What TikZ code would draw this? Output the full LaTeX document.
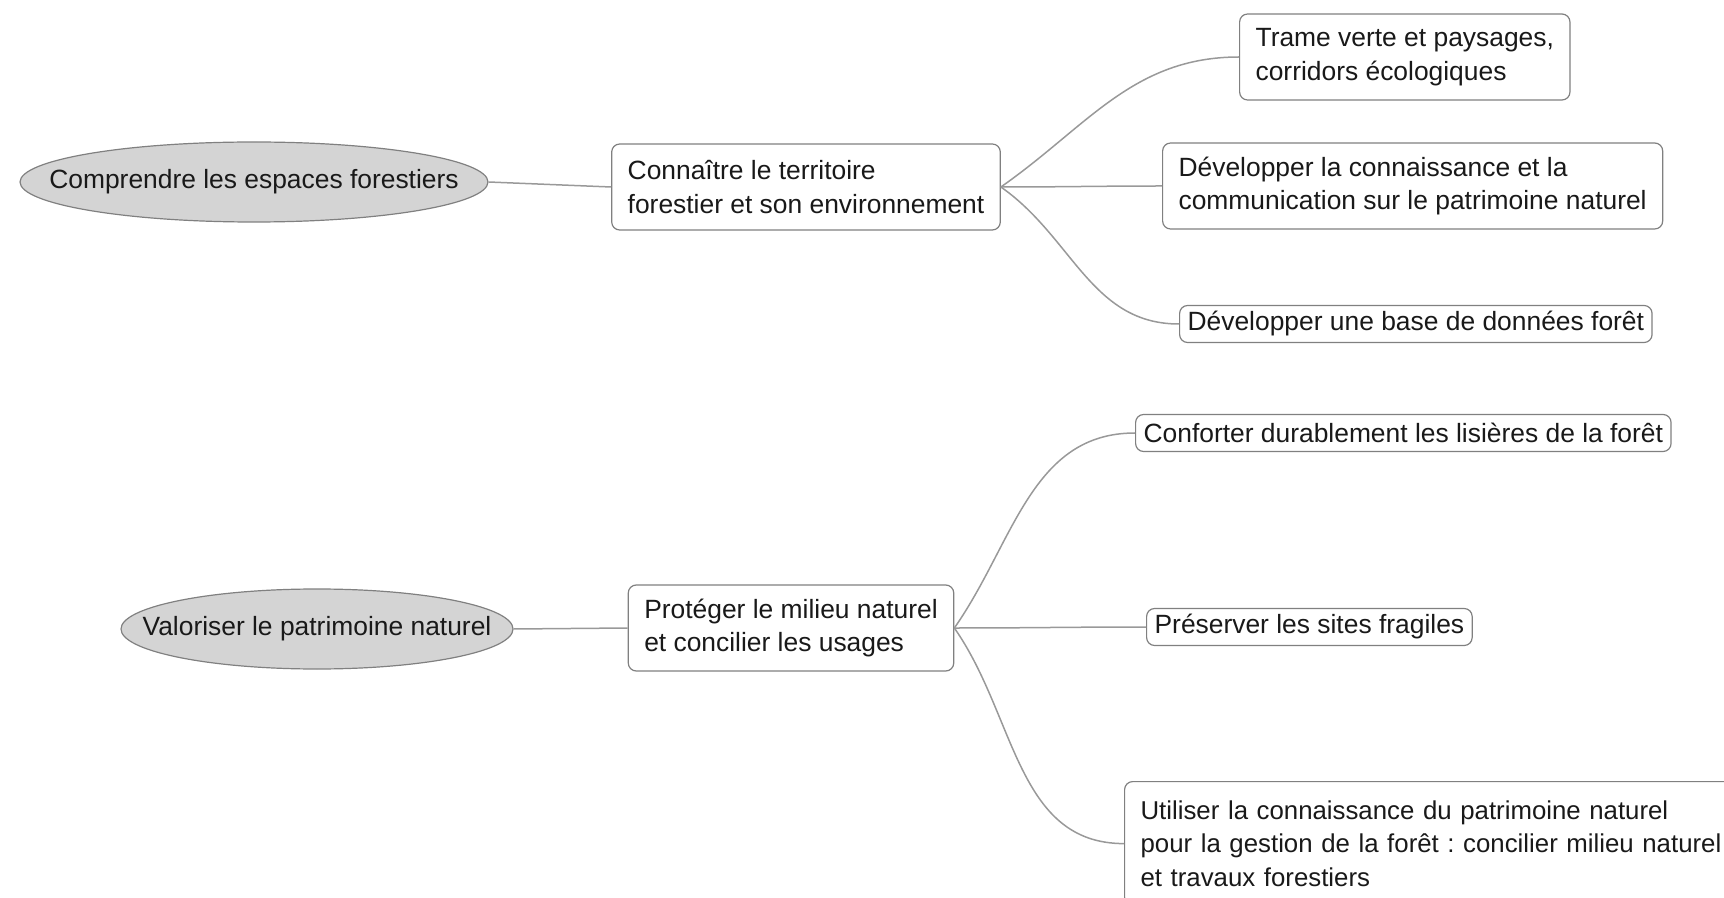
\documentclass[tikz,border=0pt]{standalone}
\usepackage{fontspec}
\setmainfont{Liberation Sans}
\usetikzlibrary{shapes}
\usetikzlibrary{positioning}
\frenchspacing

\begin{document}
\begin{tikzpicture}[x=0.5pt,y=-0.5pt,font=\fontsize{13.2}{16.8}\selectfont]
% définition des paramètres
\tikzstyle ellipsecarte=[ellipse,draw=black!50,fill=black!17,line width=0.6pt,minimum width=234pt,minimum height=40pt,inner xsep=-30pt,inner ysep=0pt,text=black!90]
\tikzstyle boitecarte=[rectangle,rounded corners=4pt,draw=black!50,fill=white,line width=0.6pt,align=left,inner xsep=8pt,minimum height=43pt,text=black!90]
\tikzstyle petiteboite=[boitecarte,inner xsep=4pt,inner ysep=2pt,minimum height=18.5pt]
\tikzstyle liencarte=[color=black!40,line width=0.75pt]
% le cadre
\clip (0,0) rectangle (1724,898);
% premier axe
\node[ellipsecarte] (comprendre) at (254,182) {Comprendre les espaces forestiers};
\node[boitecarte] (connaitre) at (806,187) {Connaître le territoire\\forestier et son environnement};
\node[boitecarte,anchor=west] (trame) at (1239,57) {Trame verte et paysages,\\corridors écologiques};
\node[boitecarte,anchor=west] (devconn) at (1162,186) {Développer la connaissance et la\\communication sur le patrimoine naturel};
\node[petiteboite,anchor=west] (devbase) at (1179,324) {Développer une base de données forêt};
% second axe
\node[ellipsecarte,minimum width=196pt] (valoriser) at (317,629) {Valoriser le patrimoine naturel};
\node[boitecarte] (proteger) at (791,628) {Protéger le milieu naturel\\et concilier les usages};
\node[petiteboite,anchor=west] (conforter) at (1135,433) {Conforter durablement les lisières de la forêt};
\node[petiteboite,anchor=west] (preserver) at (1146,627) {Préserver les sites fragiles};
\node[boitecarte,anchor=north west,text width=304pt,minimum height=62pt,font=\fontsize{12.9}{16.8}\selectfont] (utiliser) at (1124,781) {Utiliser la connaissance du patrimoine naturel\\pour la gestion de la forêt : concilier milieu naturel\\et travaux forestiers};
% les liens
\draw[liencarte] (comprendre.east) -- (connaitre.west);
\draw[liencarte] (valoriser.east) -- (proteger.west);
\foreach \cible/\angle in {trame/35,devconn/0,devbase/-35}
    \draw[liencarte] (connaitre.east) to[out=\angle,in=180] (\cible.west);
\foreach \cible/\angle in {conforter/55,preserver/0,utiliser/-55}
    \draw[liencarte] (proteger.east) to[out=\angle,in=180] (\cible.west);
\end{tikzpicture}
\end{document}
